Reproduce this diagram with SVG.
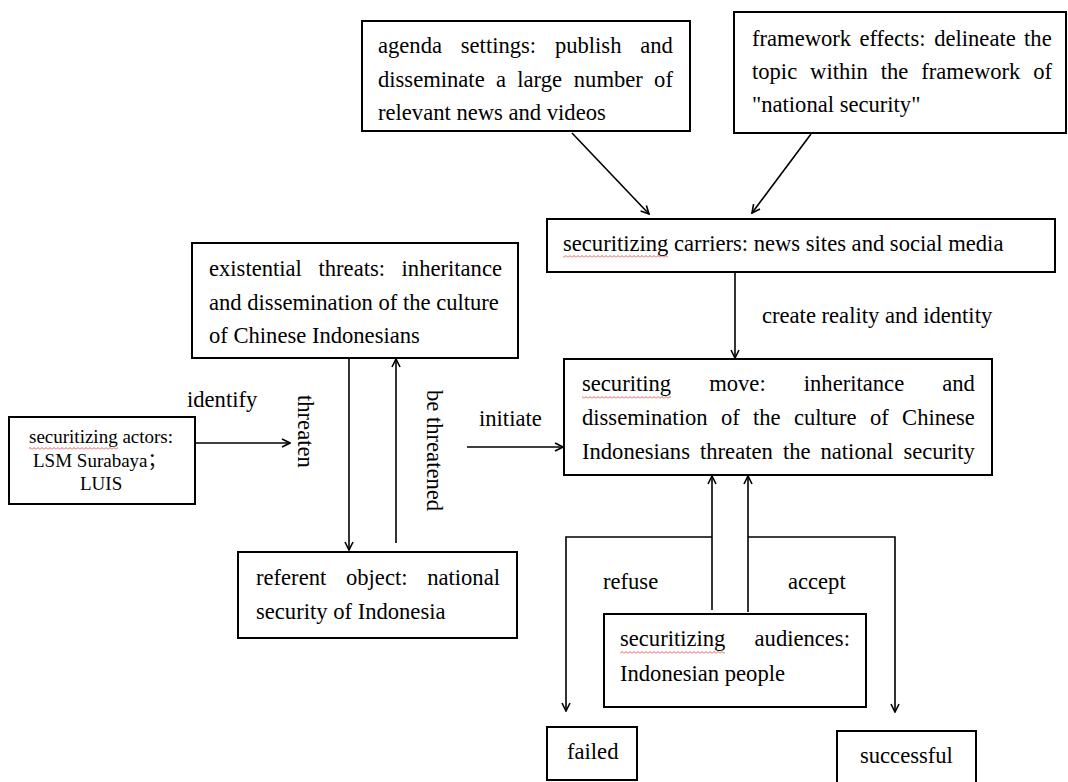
<svg xmlns="http://www.w3.org/2000/svg" width="1068" height="782" viewBox="0 0 1068 782">
<style>
  .box { fill: #ffffff; stroke: #000000; stroke-width: 2; }
  .t { font-family: "Liberation Serif", "Times New Roman", serif; font-size: 22.6px; fill: #000000; }
  .ts { font-family: "Liberation Serif", "Noto Sans CJK SC", serif; font-size: 19px; fill: #000000; }
  .c { fill: none; stroke: #000000; stroke-width: 1.6; }
  .arr { marker-end: url(#ah); }
  .sp { fill: url(#wavy); }
</style>
<defs>
  <marker id="ah" viewBox="0 0 10 10" refX="9" refY="5" markerWidth="10" markerHeight="10" markerUnits="userSpaceOnUse" orient="auto">
    <path d="M1,1 L9,5 L1,9" fill="none" stroke="#000000" stroke-width="1.6"/>
  </marker>
  <pattern id="wavy" patternUnits="userSpaceOnUse" x="0" y="0" width="4" height="3">
    <path d="M0,2.5 L2,0.5 L4,2.5" fill="none" stroke="#e03030" stroke-width="0.8"/>
  </pattern>
</defs>
<rect x="0" y="0" width="1068" height="782" fill="#ffffff"/>

<g id="connectors">
  <line class="c arr" x1="572" y1="133" x2="649" y2="214"/>
  <line class="c arr" x1="811" y1="134" x2="752" y2="213"/>
  <line class="c arr" x1="735" y1="272" x2="735" y2="358"/>
  <line class="c arr" x1="195" y1="443" x2="290" y2="443"/>
  <line class="c arr" x1="349" y1="359" x2="349" y2="550"/>
  <line class="c arr" x1="396" y1="543" x2="396" y2="359"/>
  <line class="c arr" x1="467" y1="447" x2="563" y2="447"/>
  <line class="c arr" x1="712" y1="610" x2="712" y2="476"/>
  <line class="c arr" x1="748" y1="612" x2="748" y2="476"/>
  <polyline class="c arr" points="712,537 566,537 566,711"/>
  <polyline class="c arr" points="748,537 895,537 895,712"/>
  <text class="t" x="762" y="323">create reality and identity</text>
  <text class="t" x="187" y="407">identify</text>
  <text class="t" transform="translate(298,395) rotate(90)">threaten</text>
  <text class="t" transform="translate(427,390) rotate(90)">be threatened</text>
  <text class="t" x="479" y="426">initiate</text>
  <text class="t" x="603" y="589">refuse</text>
  <text class="t" x="788" y="589">accept</text>
</g>

<g id="agenda">
  <rect class="box" x="362" y="21" width="328" height="110"/>
  <text class="t" y="53"><tspan x="378">agenda</tspan><tspan x="460.8">settings:</tspan><tspan x="554.9">publish</tspan><tspan x="640.3">and</tspan></text>
  <text class="t" y="87"><tspan x="378">disseminate</tspan><tspan x="496">a</tspan><tspan x="517.3">large</tspan><tspan x="573.8">number</tspan><tspan x="654.1">of</tspan></text>
  <text class="t" x="378" y="120">relevant news and videos</text>
</g>

<g id="framework">
  <rect class="box" x="734" y="12" width="332" height="121"/>
  <text class="t" y="46"><tspan x="752">framework</tspan><tspan x="859.4">effects:</tspan><tspan x="934.2">delineate</tspan><tspan x="1024.1">the</tspan></text>
  <text class="t" y="79"><tspan x="752">topic</tspan><tspan x="810.1">within</tspan><tspan x="880.8">the</tspan><tspan x="921.3">framework</tspan><tspan x="1033.3">of</tspan></text>
  <text class="t" x="752" y="112">"national security"</text>
</g>

<g id="carriers">
  <rect class="box" x="547" y="219" width="508" height="53"/>
  <text class="t" x="563" y="251">securitizing carriers: news sites and social media</text>
  <rect class="sp" x="563" y="255" width="105" height="3"/>
</g>

<g id="existential">
  <rect class="box" x="192" y="243" width="326" height="115"/>
  <text class="t" y="276"><tspan x="209">existential</tspan><tspan x="318.5">threats:</tspan><tspan x="401.6">inheritance</tspan></text>
  <text class="t" x="209" y="310">and dissemination of the culture</text>
  <text class="t" x="209" y="343">of Chinese Indonesians</text>
</g>

<g id="actors">
  <rect class="box" x="9" y="417" width="186" height="87"/>
  <text class="ts" x="29" y="443">securitizing actors:</text>
  <rect class="sp" x="29" y="447" width="89" height="3"/>
  <text class="ts" x="33" y="467">LSM Surabaya；</text>
  <text class="ts" x="80" y="490">LUIS</text>
</g>

<g id="move">
  <rect class="box" x="564" y="359" width="428" height="116"/>
  <text class="t" y="391"><tspan x="582">securiting</tspan><tspan x="709.2">move:</tspan><tspan x="803.8">inheritance</tspan><tspan x="942.3">and</tspan></text>
  <rect class="sp" x="582" y="396" width="89" height="3"/>
  <text class="t" y="425"><tspan x="582">dissemination</tspan><tspan x="720.9">of</tspan><tspan x="753">the</tspan><tspan x="793.9">culture</tspan><tspan x="870">of</tspan><tspan x="902.1">Chinese</tspan></text>
  <text class="t" y="459"><tspan x="582">Indonesians</tspan><tspan x="700">threaten</tspan><tspan x="782.9">the</tspan><tspan x="820.5">national</tspan><tspan x="903.4">security</tspan></text>
</g>

<g id="referent">
  <rect class="box" x="238" y="552" width="279" height="86"/>
  <text class="t" y="585"><tspan x="256">referent</tspan><tspan x="346">object:</tspan><tspan x="427.2">national</tspan></text>
  <text class="t" x="256" y="619">security of Indonesia</text>
</g>

<g id="audiences">
  <rect class="box" x="604" y="614" width="262" height="93"/>
  <text class="t" y="646"><tspan x="620">securitizing</tspan><tspan x="754.6">audiences:</tspan></text>
  <rect class="sp" x="620" y="651" width="105" height="3"/>
  <text class="t" x="620" y="681">Indonesian people</text>
</g>

<g id="failed">
  <rect class="box" x="547" y="727" width="90" height="53"/>
  <text class="t" x="567" y="759">failed</text>
</g>

<g id="successful">
  <rect class="box" x="837" y="731" width="139" height="62"/>
  <text class="t" x="860" y="763">successful</text>
</g>
</svg>
